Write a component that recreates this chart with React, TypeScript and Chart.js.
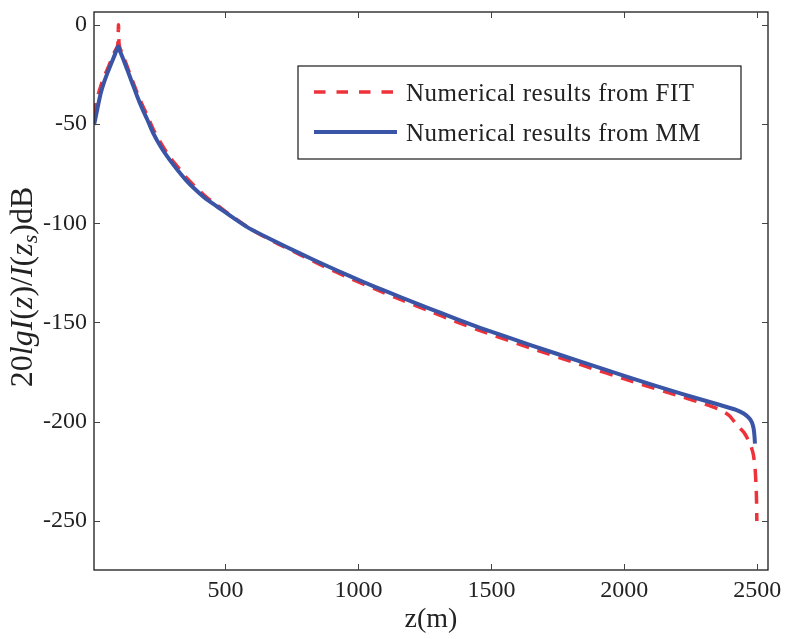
import React, { useEffect, useRef } from "react";
import { Chart, registerables } from "chart.js";

Chart.register(...registerables);

// ---- data ----
const mmZ = [6, 10, 20, 31, 43, 56, 70, 84, 97, 105, 115, 132, 150, 169, 188, 207, 230, 257, 290, 320, 350, 382, 425, 470, 530, 590, 680, 780, 870, 970, 1060, 1160, 1270, 1360, 1460, 1650, 1830, 2020, 2210, 2360, 2420, 2450, 2470, 2480, 2486, 2489, 2491];
const mmDb = [-50.5, -48, -41.5, -34.6, -29.3, -24.5, -19.8, -15.2, -11, -13.8, -17, -23, -29.5, -36.3, -42.5, -48, -55, -61.5, -68, -73.2, -78, -82.4, -87.5, -91.7, -97.3, -102.6, -108.7, -115.2, -120.8, -126.8, -131.9, -137.3, -143.1, -147.8, -152.8, -161.5, -169.5, -177.8, -185.7, -191.6, -194, -196, -198.3, -200.5, -203.5, -207, -211];

const fitZ = [6, 16, 25, 40, 56, 70, 84, 95, 98, 101, 115, 132, 150, 169, 188, 207, 230, 257, 290, 320, 350, 382, 425, 470, 530, 590, 680, 780, 870, 970, 1060, 1160, 1270, 1360, 1460, 1650, 1830, 2020, 2210, 2300, 2360, 2395, 2423, 2450, 2472, 2484, 2491, 2495, 2497, 2498];
const fitDb = [-46, -38, -33.7, -27.5, -22.5, -18, -13.5, -10.5, 0, -10.5, -15.5, -21.5, -28, -34.5, -40.5, -46, -53, -59.5, -66.5, -71.5, -76.5, -81, -86.5, -91, -97, -102.5, -109.2, -115.8, -121.8, -127.8, -133, -138.5, -144.4, -149.2, -154.2, -163, -171, -179.3, -187.2, -191, -194, -197, -201.7, -205.5, -210.9, -216, -222.7, -232, -240, -250];

const xTicks = [500, 1000, 1500, 2000, 2500];
const yTicks = [0, -50, -100, -150, -200, -250];
const seriesLabels = ["Numerical results from FIT", "Numerical results from MM"];
const xTitle = "z(m)";

const RED = "rgb(238,50,58)";
const BLUE = "rgb(58,84,166)";
const TEXT = "#222222";
const SERIF = "'Liberation Serif', 'Times New Roman', serif";

type Part = { t: string; italic?: boolean; sub?: boolean };
const yTitleParts: Part[] = [
  { t: "20" },
  { t: "lgI", italic: true },
  { t: "(" },
  { t: "z", italic: true },
  { t: ")/" },
  { t: "I", italic: true },
  { t: "(" },
  { t: "z", italic: true },
  { t: "s", italic: true, sub: true },
  { t: ")dB" },
];

const framePlugin = {
  id: "frame",
  afterDraw(chart: any) {
    const { ctx, chartArea, scales } = chart;
    const { left, right, top, bottom } = chartArea;
    ctx.save();
    ctx.strokeStyle = "#1a1a1a";
    ctx.lineWidth = 1.3;
    ctx.strokeRect(left, top, right - left, bottom - top);
    ctx.strokeStyle = "#444";
    ctx.lineWidth = 1;
    const tl = 6;
    ctx.beginPath();
    xTicks.forEach((v) => {
      const px = Math.round(scales.x.getPixelForValue(v)) + 0.5;
      ctx.moveTo(px, bottom);
      ctx.lineTo(px, bottom - tl);
      ctx.moveTo(px, top);
      ctx.lineTo(px, top + tl);
    });
    yTicks.forEach((v) => {
      const py = Math.round(scales.y.getPixelForValue(v)) + 0.5;
      ctx.moveTo(left, py);
      ctx.lineTo(left + tl, py);
      ctx.moveTo(right, py);
      ctx.lineTo(right - tl, py);
    });
    ctx.stroke();

    // legend box
    const bx = left + 204;
    const by = top + 54;
    const bw = right - 27 - bx;
    const bh = 93;
    ctx.fillStyle = "#ffffff";
    ctx.fillRect(bx, by, bw, bh);
    ctx.strokeStyle = "#1a1a1a";
    ctx.lineWidth = 1.2;
    ctx.strokeRect(bx, by, bw, bh);
    const rows = [
      { label: chart.data.datasets[0].label, color: RED, dash: [11.5, 11], width: 3.5, y: by + 26 },
      { label: chart.data.datasets[1].label, color: BLUE, dash: [], width: 4, y: by + 66 },
    ];
    rows.forEach((r) => {
      ctx.beginPath();
      ctx.setLineDash(r.dash);
      ctx.strokeStyle = r.color;
      ctx.lineWidth = r.width;
      ctx.moveTo(bx + 16, r.y);
      ctx.lineTo(bx + 99, r.y);
      ctx.stroke();
      ctx.setLineDash([]);
      ctx.fillStyle = TEXT;
      ctx.font = `25px ${SERIF}`;
      try { (ctx as any).letterSpacing = "0.5px"; } catch (e) {}
      ctx.textAlign = "left";
      ctx.textBaseline = "alphabetic";
      ctx.fillText(r.label, bx + 108, r.y + 9);
      try { (ctx as any).letterSpacing = "0px"; } catch (e) {}
    });

    // y title with mixed fonts, fitted to the reference length
    const base = 28;
    const fontFor = (p: Part, size: number) =>
      `${p.italic ? "italic " : ""}${p.sub ? Math.round(size * 0.7) : size}px ${SERIF}`;
    const measure = (size: number) =>
      yTitleParts.map((p) => {
        ctx.font = fontFor(p, size);
        return ctx.measureText(p.t).width;
      });
    let total = measure(base).reduce((a, b) => a + b, 0);
    const size = Math.min(32, Math.max(24, (base * 212) / total));
    const widths = measure(size);
    total = widths.reduce((a, b) => a + b, 0);
    const cy = (top + bottom) / 2 - 4;
    ctx.translate(32, cy);
    ctx.rotate(-Math.PI / 2);
    ctx.fillStyle = TEXT;
    ctx.textAlign = "left";
    ctx.textBaseline = "alphabetic";
    let x = -total / 2;
    yTitleParts.forEach((p, i) => {
      ctx.font = fontFor(p, size);
      ctx.fillText(p.t, x, p.sub ? 5 : 0);
      x += widths[i];
    });
    ctx.restore();
  },
};

export default function App() {
  const ref = useRef<HTMLCanvasElement | null>(null);
  useEffect(() => {
    if (!ref.current) return;
    const chart = new Chart(ref.current, {
      type: "line",
      data: {
        datasets: [
          {
            label: seriesLabels[0],
            data: fitZ.map((z, i) => ({ x: z, y: fitDb[i] })),
            borderColor: RED,
            borderWidth: 3.5,
            borderDash: [13, 9],
            pointRadius: 0,
            tension: 0.25,
            fill: false,
            order: 2,
          },
          {
            label: seriesLabels[1],
            data: mmZ.map((z, i) => ({ x: z, y: mmDb[i] })),
            borderColor: BLUE,
            borderWidth: 4,
            borderJoinStyle: "round",
            pointRadius: 0,
            tension: 0.25,
            fill: false,
            order: 1,
          },
        ],
      },
      options: {
        animation: false,
        responsive: false,
        events: [],
        layout: { padding: { left: 0, right: 17, top: 12, bottom: 0 } },
        plugins: { legend: { display: false }, tooltip: { enabled: false } },
        scales: {
          x: {
            type: "linear",
            min: 6,
            max: 2540,
            grid: { display: false, drawTicks: false },
            border: { display: false },
            afterBuildTicks: (s: any) => {
              s.ticks = xTicks.map((v) => ({ value: v }));
            },
            afterFit: (s: any) => {
              s.height = 69;
              s.paddingLeft = 0;
              s.paddingRight = 0;
              s.paddingTop = 0;
              s.paddingBottom = 0;
            },
            ticks: {
              autoSkip: false,
              maxRotation: 0,
              padding: 6,
              color: TEXT,
              font: { family: SERIF, size: 24 },
              callback: (v: any) => String(v),
            },
            title: {
              display: true,
              text: xTitle,
              color: TEXT,
              font: { family: SERIF, size: 28 },
              padding: { top: 0, bottom: 3 },
            },
          },
          y: {
            type: "linear",
            min: -274.7,
            max: 6.4,
            grid: { display: false, drawTicks: false },
            border: { display: false },
            afterBuildTicks: (s: any) => {
              s.ticks = yTicks.map((v) => ({ value: v }));
            },
            afterFit: (s: any) => {
              s.width = 94;
              s.paddingLeft = 0;
              s.paddingRight = 0;
              s.paddingTop = 0;
              s.paddingBottom = 0;
            },
            ticks: {
              autoSkip: false,
              padding: 7,
              color: TEXT,
              font: { family: SERIF, size: 24 },
              callback: (v: any) => String(v),
            },
          },
        },
      },
      plugins: [framePlugin],
    } as any);
    return () => chart.destroy();
  }, []);
  return (
    <div style={{ position: "fixed", left: 0, top: 0, width: 785, height: 639, background: "#fff" }}>
      <canvas ref={ref} width={785} height={639} style={{ display: "block" }} />
    </div>
  );
}
